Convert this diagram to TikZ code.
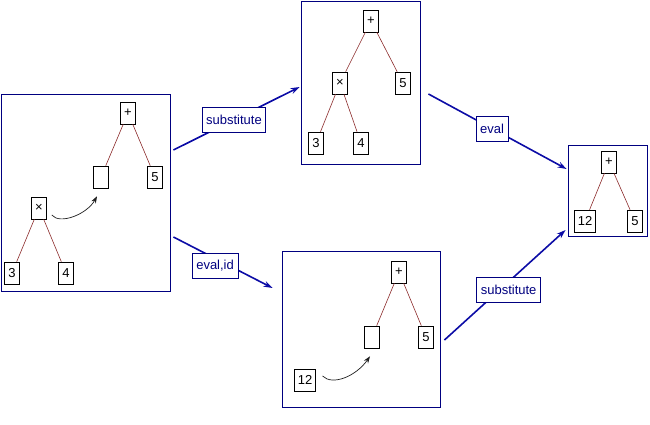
\documentclass[tikz,border=0pt]{standalone}
\usepackage{fontspec}
\setmainfont{Liberation Sans}
\usetikzlibrary{arrows.meta}
\definecolor{rahmen}{HTML}{000080}
\definecolor{pfeil}{HTML}{0C0CA6}
\definecolor{ast}{HTML}{8B2A2A}
\definecolor{bogen}{HTML}{1E1E1E}
\newcommand\knf{\fontsize{13}{15}\selectfont}
\newcommand\blatt[4]{\node[knoten] (#1) at (#2,#3) {#4};}

\begin{document}
\begin{tikzpicture}[x=1pt,y=-1pt]
\useasboundingbox (0,0) rectangle (650,425);
\tikzset{feld/.style={draw=rahmen,line width=0.9pt,inner sep=0},
  knoten/.style={draw=black,line width=0.6pt,fill=white,minimum width=15pt,
    minimum height=22pt,inner xsep=3pt,inner ysep=0,font=\knf},
  kante/.style={ast,line width=0.6pt},
  schritt/.style={pfeil,line width=1.6pt,-{Stealth[length=9pt,width=6pt]}},
  regel/.style={draw=rahmen,line width=0.7pt,fill=white,text=rahmen,font=\knf,
    inner xsep=4pt,inner ysep=0,minimum height=25pt},
  einsetzen/.style={bogen,line width=0.7pt,-{Stealth[length=7pt,width=5pt]}}}

% ---- Felder ------------------------------------------------------------------
\node[feld,minimum width=169pt,minimum height=197pt] (f1) at (85.5,192.5) {};
\node[feld,minimum width=119pt,minimum height=163pt] (f2) at (360.5,82.5) {};
\node[feld,minimum width=158pt,minimum height=156pt] (f3) at (361,329) {};
\node[feld,minimum width=79pt,minimum height=91pt] (f4) at (607.5,190.5) {};

% ---- Ausgangsterm: (3 x 4) wird in die Lücke eingesetzt
\blatt{a1}{128}{113}{+}
\blatt{a2}{101}{177}{}
\blatt{a3}{155}{177}{5}
\blatt{a4}{39}{208}{×}
\blatt{a5}{12}{273}{3}
\blatt{a6}{66}{273}{4}
\draw[kante] (a1) -- (a2) (a1) -- (a3) (a4) -- (a5) (a4) -- (a6);
\draw[einsetzen] ([shift={(5,7)}]a4.east) .. controls +(8,10) and +(-10,18) ..
  ([shift={(-4,8)}]a2.south);

% ---- nach substitute
\blatt{b1}{371}{21}{+}
\blatt{b2}{340}{83}{×}
\blatt{b3}{403}{83}{5}
\blatt{b4}{316}{143}{3}
\blatt{b5}{361}{143}{4}
\draw[kante] (b1) -- (b2) (b1) -- (b3) (b2) -- (b4) (b2) -- (b5);

% ---- nach eval,id
\blatt{c1}{399}{272}{+}
\blatt{c2}{372}{337}{}
\blatt{c3}{426}{337}{5}
\blatt{c4}{305}{380}{12}
\draw[kante] (c1) -- (c2) (c1) -- (c3);
\draw[einsetzen] ([shift={(7,-4)}]c4.east) .. controls +(10,10) and +(-14,20) ..
  ([shift={(-2,8)}]c2.south);

% ---- Ergebnis
\blatt{d1}{609}{162}{+}
\blatt{d2}{585}{221}{12}
\blatt{d3}{635}{221}{5}
\draw[kante] (d1) -- (d2) (d1) -- (d3);

% ---- Schritte ----------------------------------------------------------------
\draw[schritt] ([shift={(3,-42.5)}]f1.east) -- ([shift={(-1,4.5)}]f2.west)
  node[regel,pos=0.48] {substitute};
\draw[schritt] ([shift={(8,11.5)}]f2.east) -- ([shift={(-1,-21.5)}]f4.west)
  node[regel,pos=0.46] {eval};
\draw[schritt] ([shift={(3,44.5)}]f1.east) -- ([shift={(-9,-41)}]f3.west)
  node[regel,pos=0.42,yshift=-7pt] {eval,id};
\draw[schritt] ([shift={(4,11)}]f3.east) -- ([shift={(-2,39.5)}]f4.west)
  node[regel,pos=0.53,yshift=-8pt] {substitute};
\end{tikzpicture}
\end{document}
